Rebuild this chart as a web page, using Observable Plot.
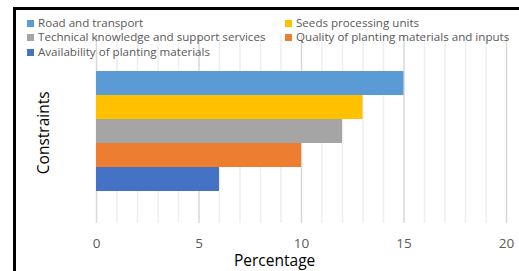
<!DOCTYPE html>
<html><head><meta charset="utf-8">
<script src="https://cdn.jsdelivr.net/npm/d3@7"></script>
<script src="https://cdn.jsdelivr.net/npm/@observablehq/plot@0.6"></script>
<style>
body{margin:0;background:#fff;font-family:"Open Sans",sans-serif}
#wrap{position:relative;width:519px;height:271px;overflow:hidden;background:#fff}
#chart{position:absolute;left:0;top:0}
.bl{position:absolute;left:13px;top:7px;width:3px;height:264px;background:#000}
.bt{position:absolute;left:13px;top:7px;width:506px;height:2.5px;background:#000}
.lg{position:absolute;font-size:11.6px;color:#595959;white-space:nowrap;line-height:14px}
.lg span{display:inline-block;width:7px;height:7px;margin-right:4px;vertical-align:0}
.ttl{position:absolute;font-size:15.5px;color:#000;white-space:nowrap;line-height:15.5px}
</style></head><body><div id="wrap"><div id="chart"></div></div>
<script>
const constraints = [
  "Road and transport",
  "Seeds processing units",
  "Technical knowledge and support services",
  "Quality of planting materials and inputs",
  "Availability of planting materials"
];
const percentages = [15, 13, 12, 10, 6];
const colors = ["#5B9BD5", "#FFC000", "#A5A5A5", "#ED7D31", "#4472C4"];
const xTicks = [0, 5, 10, 15, 20];
const minorTicks = [1,2,3,4,6,7,8,9,11,12,13,14,16,17,18,19];
const xLabel = "Percentage";
const yLabel = "Constraints";

const data = constraints.map((c, i) => ({name: c, value: percentages[i]}));

const chart = Plot.plot({
  width: 519, height: 271,
  marginLeft: 96, marginRight: 13, marginTop: 35, marginBottom: 48,
  style: {fontFamily: "Open Sans, sans-serif", fontSize: "14px", color: "#595959", background: "transparent"},
  x: {domain: [0, 20]},
  y: {domain: constraints, padding: 0, insetTop: 35, insetBottom: 32, axis: null},
  color: {domain: constraints, range: colors},
  marks: [
    Plot.ruleX(minorTicks, {stroke: "#eeeeee", strokeWidth: 1.5}),
    Plot.ruleX(xTicks, {stroke: "#d9d9d9", strokeWidth: 1.5}),
    Plot.barX(data, {x: "value", y: "name", fill: "name"}),
    Plot.axisX({ticks: xTicks, tickSize: 0, tickPadding: 15, label: null, fontSize: 13.5})
  ]
});
const wrap = document.getElementById("wrap");
document.getElementById("chart").appendChild(chart);

function add(cls, html, styleObj) {
  const d = document.createElement("div");
  d.className = cls; d.innerHTML = html;
  Object.assign(d.style, styleObj);
  wrap.appendChild(d);
  return d;
}
add("bl", "", {}); add("bt", "", {});
const legPos = [[27, 15.5], [285, 15.5], [27, 29.5], [285, 29.5], [27, 44.5]];
constraints.forEach((c, i) => {
  add("lg", `<span style="background:${colors[i]}"></span>${c}`, {left: legPos[i][0] + "px", top: legPos[i][1] + "px"});
});
const px = add("ttl", xLabel, {});
px.style.left = (274.5 - px.offsetWidth / 2) + "px"; px.style.top = "253px";
const py = add("ttl", yLabel, {});
py.style.left = (43.5 - py.offsetWidth / 2) + "px";
py.style.top = (132.5 - py.offsetHeight / 2) + "px";
py.style.transform = "rotate(-90deg)";
</script></body></html>
